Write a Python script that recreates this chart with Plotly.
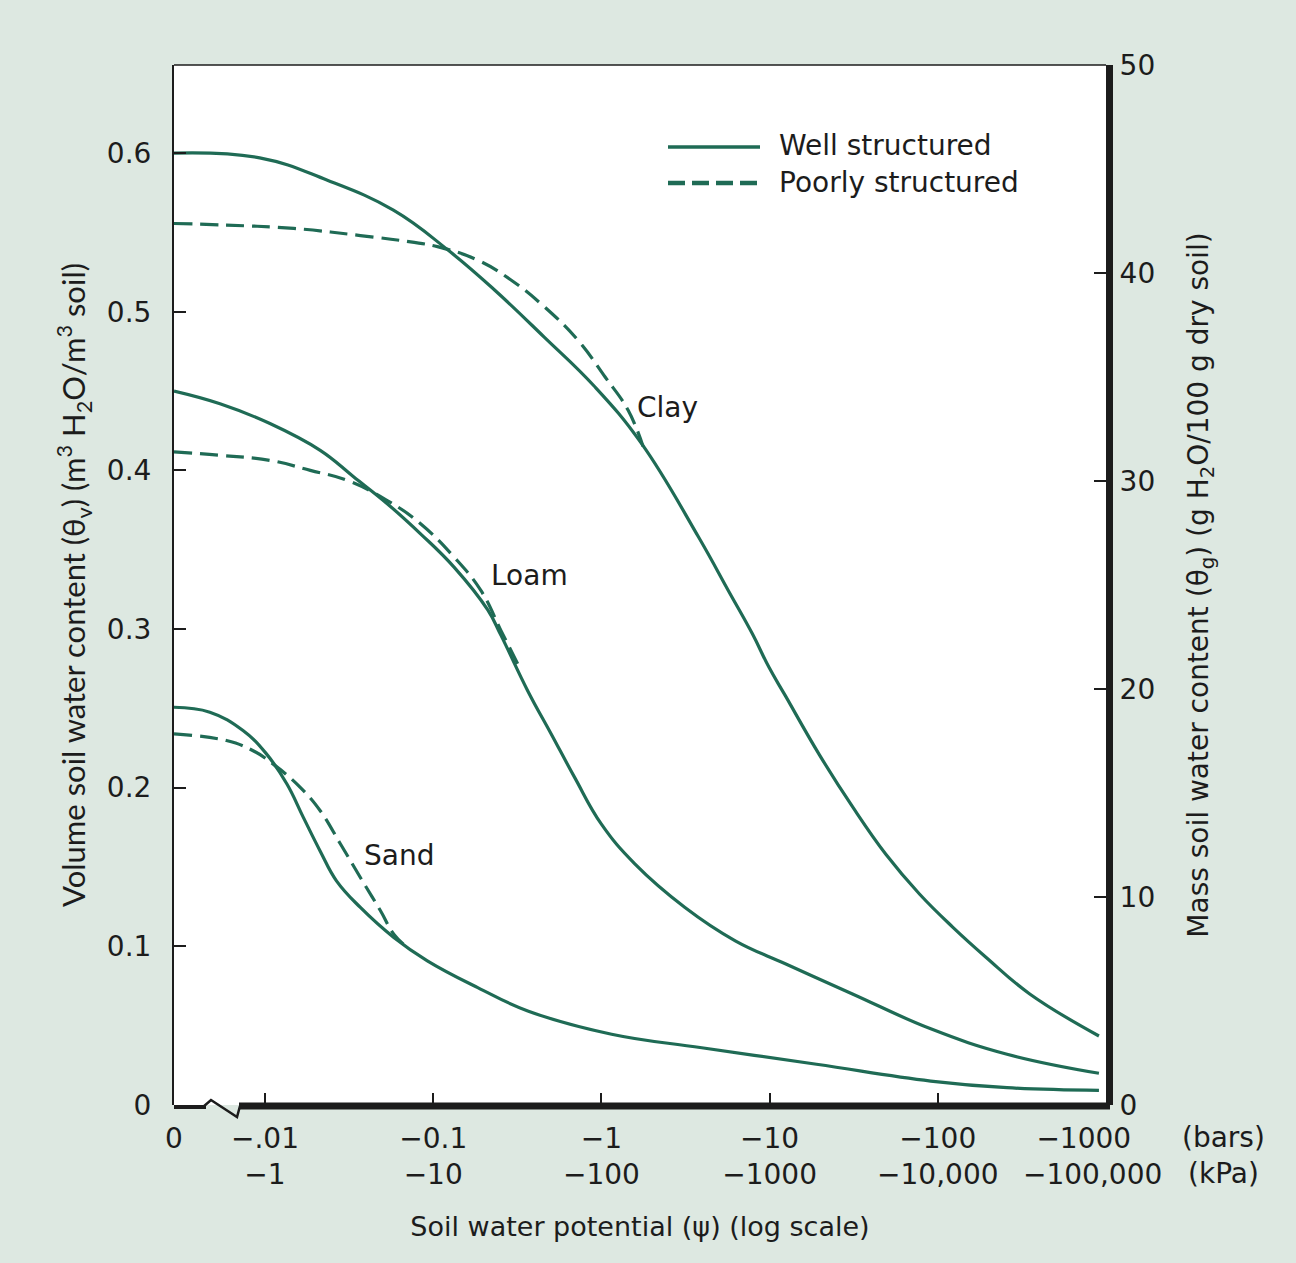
import math
import plotly.graph_objects as go

# ---------------- data (psi in bars, theta_v in m3/m3) ----------------
clay_well_psi = [0, -0.0093, -0.0233, -0.058, -0.122, -0.23, -0.457, -0.908, -1.73, -3.78,
                 -5.7, -7.9, -9.9, -12.4, -19.7, -31.1, -49.1, -77.8, -123, -194, -352, -908]
clay_well_theta = [0.600, 0.597, 0.583, 0.564, 0.539, 0.514, 0.484, 0.453, 0.417, 0.358,
                   0.324, 0.297, 0.276, 0.258, 0.221, 0.188, 0.158, 0.133, 0.112, 0.093, 0.070, 0.0435]

clay_poor_psi = [0, -0.0059, -0.0148, -0.0369, -0.0734, -0.106, -0.184, -0.29, -0.459, -0.726,
                 -1.05, -1.44, -1.77]
clay_poor_theta = [0.5556, 0.5546, 0.5525, 0.548, 0.544, 0.541, 0.5325, 0.520, 0.503, 0.482,
                   0.459, 0.438, 0.415]

loam_well_psi = [0, -0.0054, -0.0107, -0.0213, -0.0336, -0.0533, -0.0841, -0.133, -0.211, -0.253,
                 -0.365, -0.502, -0.693, -1.0, -1.58, -3.14, -6.25, -12.4, -31.1, -90.8, -258, -908]
loam_well_theta = [0.450, 0.442, 0.4295, 0.4126, 0.396, 0.379, 0.360, 0.339, 0.312, 0.296,
                   0.261, 0.234, 0.2065, 0.177, 0.152, 0.1245, 0.1035, 0.089, 0.070, 0.048, 0.032, 0.020]

loam_poor_psi = [0, -0.0054, -0.0107, -0.0186, -0.0308, -0.0533, -0.0841, -0.133, -0.192, -0.253, -0.318]
loam_poor_theta = [0.4116, 0.4095, 0.4063, 0.400, 0.3937, 0.381, 0.3664, 0.3454, 0.3243, 0.299, 0.278]

sand_well_psi = [0, -0.0047, -0.0074, -0.0102, -0.0135, -0.0169, -0.0213, -0.0266, -0.0369, -0.0583,
                 -0.0923, -0.184, -0.365, -1.15, -3.95, -19.0, -90.8, -258, -908]
sand_well_theta = [0.2507, 0.2476, 0.236, 0.2213, 0.2023, 0.1813, 0.160, 0.1413, 0.1245, 0.1056,
                   0.0909, 0.074, 0.0593, 0.0446, 0.0361, 0.0257, 0.0151, 0.0109, 0.0092]

sand_poor_psi = [0, -0.0059, -0.0085, -0.0115, -0.0162, -0.0213, -0.0281, -0.0369, -0.0486, -0.0583, -0.0702]
sand_poor_theta = [0.2339, 0.2297, 0.2233, 0.2139, 0.2002, 0.1855, 0.1645, 0.1434, 0.1224, 0.1077, 0.0993]

x_tick_bars = [0, -0.01, -0.1, -1, -10, -100, -1000]
x_tick_bar_labels = ["0", "−.01", "−0.1", "−1", "−10", "−100", "−1000"]
x_tick_kpa_labels = ["", "−1", "−10", "−100", "−1000", "−10,000", "−100,000"]
y_left_ticks = [0, 0.1, 0.2, 0.3, 0.4, 0.5, 0.6]
y_left_labels = ["0", "0.1", "0.2", "0.3", "0.4", "0.5", "0.6"]
y_right_ticks = [0, 10, 20, 30, 40, 50]

curve_labels = ["Clay", "Loam", "Sand"]
legend_labels = ["Well structured", "Poorly structured"]

# ---------------- styling ----------------
ZERO_POS = -2.541          # axis position used for psi = 0 (left of the axis break)
GREEN = "#1f6b55"
INK = "#1c1c1c"
FONT = "DejaVu Sans"
BG = "#dde8e1"
DASH = "18px,8px"
FS = 28


def xpos(psi):
    return math.log10(-psi) if psi < 0 else ZERO_POS


fig = go.Figure()
series = [
    (clay_well_psi, clay_well_theta, "solid"),
    (clay_poor_psi, clay_poor_theta, DASH),
    (loam_well_psi, loam_well_theta, "solid"),
    (loam_poor_psi, loam_poor_theta, DASH),
    (sand_well_psi, sand_well_theta, "solid"),
    (sand_poor_psi, sand_poor_theta, DASH),
]
for psi, theta, dash in series:
    fig.add_trace(go.Scatter(
        x=[xpos(p) for p in psi], y=theta, mode="lines",
        line=dict(color=GREEN, width=3.2, dash=dash, shape="spline", smoothing=1.2),
        showlegend=False, hoverinfo="skip"))

# invisible trace for the right axis
fig.add_trace(go.Scatter(x=[ZERO_POS], y=[0], yaxis="y2", mode="markers",
                         marker=dict(opacity=0), showlegend=False, hoverinfo="skip"))

# plot geometry (pixels) for paper-coordinate helpers
L, R, T, B = 174, 1106, 65, 1105
W_, H_ = R - L, B - T


def px(xp):
    return (xp - L) / W_


def py(yp):
    return (B - yp) / H_


NB = "\u00a0"
pad_b = ["", "", "", "", "", "", NB * 5]
pad_k = ["", "", "", "", "", "", NB * 3]
tick_text = []
for b, k, pb, pk in zip(x_tick_bar_labels, x_tick_kpa_labels, pad_b, pad_k):
    tick_text.append(b + pb if k == "" else f"{b}{pb}<br>{k}{pk}")

fig.update_layout(
    width=1296, height=1263,
    paper_bgcolor=BG, plot_bgcolor="white",
    margin=dict(l=L, r=1296 - R, t=T, b=1263 - B, autoexpand=False),
    font=dict(family=FONT, color=INK, size=FS),
    xaxis=dict(
        range=[ZERO_POS, 3.0], tickvals=[xpos(v) for v in x_tick_bars], ticktext=tick_text,
        ticks="inside", ticklen=12, tickwidth=1.5, tickcolor=INK,
        showgrid=False, zeroline=False, showline=False,
        tickfont=dict(size=FS), ticklabelstandoff=14,
        title=dict(text="Soil water potential (ψ) (log scale)", font=dict(size=27), standoff=26),
    ),
    yaxis=dict(
        range=[0, 0.6555], tickvals=y_left_ticks, ticktext=y_left_labels,
        ticks="inside", ticklen=12, tickwidth=1.5, tickcolor=INK,
        showgrid=False, zeroline=False, showline=True, linewidth=2, linecolor=INK,
        tickfont=dict(size=FS), ticklabelstandoff=15,
        title=dict(text="Volume soil water content (θ<sub>v</sub>) (m<sup>3</sup> H<sub>2</sub>O/m<sup>3</sup> soil)",
                   font=dict(size=31, family="Lato"), standoff=12),
    ),
    yaxis2=dict(
        overlaying="y", side="right", range=[0, 50], tickvals=y_right_ticks,
        ticks="inside", ticklen=12, tickwidth=1.5, tickcolor=INK,
        showgrid=False, zeroline=False, showline=True, linewidth=7, linecolor=INK,
        tickfont=dict(size=FS), ticklabelstandoff=1,
        title=dict(text="Mass soil water content (θ<sub>g</sub>) (g H<sub>2</sub>O/100 g dry soil)",
                   font=dict(size=28), standoff=37),
    ),
    showlegend=False,
)

shapes = [
    # top border
    dict(type="line", xref="paper", yref="paper", x0=0, x1=1, y0=1, y1=1,
         line=dict(color=INK, width=1.5)),
    # bottom axis: short piece left of the break
    dict(type="line", xref="paper", yref="paper", x0=0, x1=px(206), y0=py(1107), y1=py(1107),
         line=dict(color=INK, width=4)),
    # break symbol
    dict(type="path", xref="paper", yref="paper",
         path=f"M {px(203)},{py(1107)} L {px(211)},{py(1100)} L {px(237)},{py(1117)} L {px(240)},{py(1106)}",
         line=dict(color=INK, width=2.5)),
    # bottom axis: thick piece right of the break
    dict(type="line", xref="paper", yref="paper", x0=px(239), x1=px(1110), y0=py(1106), y1=py(1106),
         line=dict(color=INK, width=7)),
    # legend samples
    dict(type="line", xref="paper", yref="paper", x0=px(668), x1=px(760), y0=py(147), y1=py(147),
         line=dict(color=GREEN, width=3.5)),
    dict(type="line", xref="paper", yref="paper", x0=px(668), x1=px(760), y0=py(183), y1=py(183),
         line=dict(color=GREEN, width=4.5, dash="17px,7px")),
]
fig.update_layout(shapes=shapes)

annotations = [
    dict(text=legend_labels[0], x=px(777), y=py(146), xanchor="left", yanchor="middle"),
    dict(text=legend_labels[1], x=px(777), y=py(182), xanchor="left", yanchor="middle"),
    dict(text=curve_labels[0], x=px(635), y=py(407), xanchor="left", yanchor="middle"),
    dict(text=curve_labels[1], x=px(489), y=py(575), xanchor="left", yanchor="middle"),
    dict(text=curve_labels[2], x=px(362), y=py(855), xanchor="left", yanchor="middle"),
    dict(text="(bars)", x=px(1223), y=py(1137), xanchor="center", yanchor="middle"),
    dict(text="(kPa)", x=px(1223), y=py(1173), xanchor="center", yanchor="middle"),
]
for a in annotations:
    a.update(xref="paper", yref="paper", showarrow=False, font=dict(size=FS, color=INK, family=FONT))
fig.update_layout(annotations=annotations)

fig.write_html("out.html", config={"displayModeBar": False},
               post_script="document.body.style.margin='0';")
